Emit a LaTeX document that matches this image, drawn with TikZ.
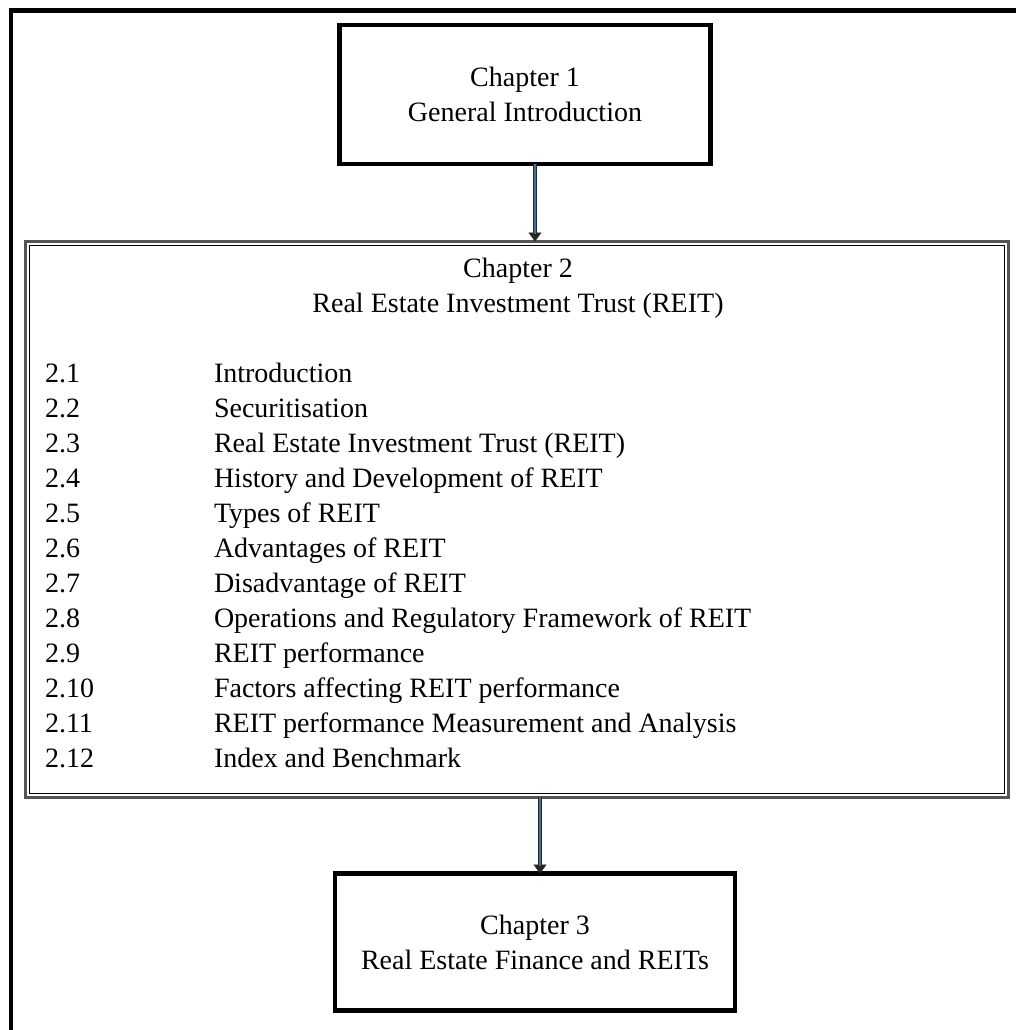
\documentclass[tikz,border=0pt]{standalone}
\usepackage{fontspec}
\setmainfont{Liberation Serif}
\usetikzlibrary{arrows.meta, positioning, calc}
\definecolor{ShaftBlue}{HTML}{41719C}
\definecolor{FrameGrey}{HTML}{555555}
\tikzset{
  chapbox/.style={draw=black, line width=4.5pt, align=center, inner sep=0pt,
    outer sep=0pt, font=\fontsize{28}{35}\selectfont},
  listbox/.style={draw=FrameGrey, line width=3pt, inner sep=0pt, outer sep=0pt},
  txt/.style={inner sep=0pt, outer sep=0pt, font=\fontsize{28}{35}\selectfont},
  shaft/.style={draw=black!85, line width=0.9pt, double=ShaftBlue,
    double distance=2.8pt, shorten >=8pt},
  tip/.style={-{Triangle[length=9pt,width=13pt]}, draw=black!85, line width=0.6pt},
}

\begin{document}
\begin{tikzpicture}[x=1pt, y=-1pt]
  \useasboundingbox (0,0) rectangle (1016,1030);
  \clip (0,0) rectangle (1016,1030);
  % page frame, runs off right and bottom
  \draw[line width=4.5pt] (11,1045) -- (11,10.5) -- (1035,10.5);

  \node[chapbox, minimum width=371pt, minimum height=139pt] (chap1) at (525,94.5) {Chapter 1\\General Introduction};
  \node[listbox, minimum width=983.5pt, minimum height=555.5pt] (chap2) at (516.75,519.25) {};
  \draw[line width=1pt] ($(chap2.north west)+(4,4)$) rectangle ($(chap2.south east)+(-4,-4)$);
  \node[chapbox, minimum width=400pt, minimum height=137pt] (chap3) at (535,942) {Chapter 3\\Real Estate Finance and REITs};

  \node[txt, anchor=north, align=center] (chap2title) at (518,258.5) {Chapter 2\\Real Estate Investment Trust (REIT)};
  \node[txt, anchor=north west] (chap2list) at (45,357.5) {%
    \begin{tabular}{@{}p{169pt}@{}l@{}}
      2.1  & Introduction\\
      2.2  & Securitisation\\
      2.3  & Real Estate Investment Trust (REIT)\\
      2.4  & History and Development of REIT\\
      2.5  & Types of REIT\\
      2.6  & Advantages of REIT\\
      2.7  & Disadvantage of REIT\\
      2.8  & Operations and Regulatory Framework of REIT\\
      2.9  & REIT performance\\
      2.10 & Factors affecting REIT performance\\
      2.11 & REIT performance Measurement and Analysis\\
      2.12 & Index and Benchmark
    \end{tabular}};

  % block arrows
  \coordinate (a2) at ([xshift=5pt]chap3.north);
  \draw[tip] (chap1.south -| chap3.north) -- (chap2.north -| chap3.north);
  \draw[shaft] (chap1.south -| chap3.north) -- (chap2.north -| chap3.north);
  \draw[tip] (chap2.south -| a2) -- (a2);
  \draw[shaft] (chap2.south -| a2) -- (a2);
\end{tikzpicture}
\end{document}
